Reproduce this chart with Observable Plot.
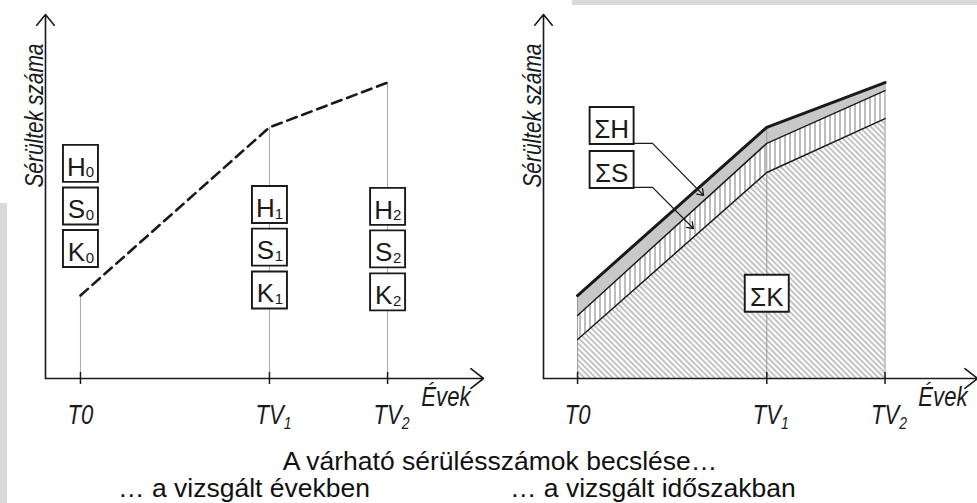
<!DOCTYPE html>
<html><head><meta charset="utf-8">
<script src="https://cdn.jsdelivr.net/npm/d3@7"></script>
<script src="https://cdn.jsdelivr.net/npm/@observablehq/plot@0.6"></script>
<style>
body{margin:0;background:#fff;}
#wrap{position:relative;width:977px;height:503px;overflow:hidden;font-family:"Liberation Sans",Arial,sans-serif;background:#fff;}
#charts{position:absolute;left:0;top:0;width:977px;display:flex;}
.title{position:absolute;white-space:nowrap;font-size:26.5px;line-height:26px;height:26px;color:#111;text-align:center;}
</style></head><body>
<svg width="0" height="0" style="position:absolute">
  <defs>
    <pattern id="hatchDiag" width="4" height="4" patternUnits="userSpaceOnUse" patternTransform="rotate(-45)">
      <line x1="1" y1="-1" x2="1" y2="5" stroke="#7a7a7a" stroke-width="0.9"/>
    </pattern>
    <pattern id="hatchVert" width="5" height="5" patternUnits="userSpaceOnUse">
      <rect width="5" height="5" fill="#fff"/>
      <line x1="2" y1="-1" x2="2" y2="6" stroke="#7a7a7a" stroke-width="1"/>
    </pattern>
  </defs>
</svg>
<div id="wrap">
  <div id="charts"></div>
  <div style="position:absolute;left:0;top:203px;width:7px;height:300px;background:#d9d9d9"></div>
  <div style="position:absolute;left:572px;top:0;width:405px;height:5px;background:#d9d9d9"></div>
  <div class="title" id="t0" style="left:0;width:1000px;top:448px"></div>
  <div class="title" id="t1" style="left:0;width:370px;top:475px;text-align:right"></div>
  <div class="title" id="t2" style="left:510px;width:320px;top:475px;text-align:left"></div>
</div>
<script>
// ---- data ----
const times = [0, 8, 13];
const tickMain = ["T0", "TV", "TV"];
const tickSub = ["", "1", "2"];
const kVals = [10.7, 56.6, 71.4];
const sVals = [6.6, 8.0, 7.7];
const hVals = [5.5, 4.4, 2.2];
const boxLetters = ["H", "S", "K"];
const boxYAtT = [[59.1, 47.4, 35.7], [47.8, 36.1, 24.3], [47.3, 35.6, 23.8]];
const sigmaLabels = ["ΣH", "ΣS", "ΣK"];
const sigmaX = [1.44, 1.44, 8.0];
const sigmaY = [69.5, 57.4, 23.4];
const leaderStartY = [64.6, 52.5];
const leaderElbowX = [3.17, 3.17];
const leaderTipX = [5.33, 4.9];
const leaderTipY = [50.3, 41.2];
const yLabel = "Sérültek száma";
const xLabel = "Évek";
const titleText = "A várható sérülésszámok becslése…";
const subLeft = "… a vizsgált években";
const subRight = "… a vizsgált időszakban";

// ---- derived tables ----
const rows = times.map((t, i) => ({
  t, k: kVals[i], ks: kVals[i] + sVals[i], tot: kVals[i] + sVals[i] + hVals[i],
  main: tickMain[i], sub: tickSub[i]
}));
const subRows = rows.filter(d => d.sub);
const boxes = [];
times.forEach((t, i) => boxLetters.forEach((L, j) => boxes.push({t, y: boxYAtT[i][j], letter: L, sub: String(i)})));
const sigmas = sigmaLabels.map((s, i) => ({x: sigmaX[i], y: sigmaY[i], label: s}));
const leaders = leaderStartY.map((y, i) => ({x0: sigmaX[i], y, xe: leaderElbowX[i], xt: leaderTipX[i], yt: leaderTipY[i]}));

const ink = "#1a1a1a";
const inkNarrow = "#1a1a1b"; // marks the condensed italic texts
const inkSubbed = "#1a1a1c"; // marks the condensed italic tick labels that carry a subscript
const regular = "'Liberation Sans',Arial,sans-serif";
const rectSymbol = (w, h) => ({draw(ctx) { ctx.rect(-w / 2, -h / 2, w, h); }});

function frameMarks(d0, d1, evekDx) {
  const it = {fontFamily: regular, fontStyle: "italic", fontSize: 27, fill: inkNarrow};
  return [
    Plot.arrow([0], {x1: d0, y1: 0, x2: d0, y2: 100, stroke: ink, strokeWidth: 1.6, headLength: 13, headAngle: 78}),
    Plot.arrow([0], {x1: d0, y1: 0, x2: d1, y2: 0, stroke: ink, strokeWidth: 1.6, headLength: 15, headAngle: 76}),
    Plot.ruleX(rows, {x: "t", y1: 0, y2: 0, insetTop: -6, insetBottom: -6, stroke: ink, strokeWidth: 1.5}),
    Plot.text(rows, {filter: d => !d.sub, x: "t", y: 0, text: "main", textAnchor: "middle", lineAnchor: "bottom", dy: 45, ...it}),
    Plot.text(subRows, {x: "t", y: 0, text: "main", textAnchor: "middle", lineAnchor: "bottom", dx: 4, dy: 45, ...it, fill: inkSubbed}),
    Plot.text([yLabel], {text: d => d, frameAnchor: "top-left", rotate: -90, textAnchor: "end", lineAnchor: "bottom", dx: -3, dy: 29, ...it, fontSize: 25.5}),
    Plot.text([xLabel], {text: d => d, frameAnchor: "bottom-right", textAnchor: "end", lineAnchor: "bottom", dx: evekDx, dy: 27, ...it})
  ];
}

const common = {height: 430, marginTop: 14, marginBottom: 52, y: {domain: [0, 100], axis: null},
  style: {maxWidth: "none", background: "transparent", overflow: "visible", fontFamily: regular}};

const left = Plot.plot({
  ...common, width: 488, marginLeft: 45, marginRight: 5,
  x: {domain: [-1.48, 17.06], axis: null},
  marks: [
    Plot.ruleX(rows, {x: "t", y1: 0, y2: "tot", stroke: "#a8a8a8", strokeWidth: 1}),
    Plot.line(rows, {x: "t", y: "tot", stroke: ink, strokeWidth: 2.6, strokeDasharray: "10,6"}),
    ...frameMarks(-1.48, 17.06, -13),
    Plot.dot(boxes, {x: "t", y: "y", r: 5, symbol: rectSymbol(35, 37), fill: "white", stroke: ink, strokeWidth: 1.9}),
    Plot.text(boxes, {x: "t", y: "y", text: "letter", dx: -4, dy: 4, fontSize: 26, fontFamily: regular, fill: ink}),
    Plot.text(boxes, {x: "t", y: "y", text: "sub", dx: 9.5, dy: 14, lineAnchor: "bottom", fontSize: 15, fontFamily: regular, fill: ink})
  ]
});

const right = Plot.plot({
  ...common, width: 489, marginLeft: 55, marginRight: 0,
  x: {domain: [-1.44, 16.91], axis: null},
  marks: [
    Plot.areaY(rows, {x: "t", y1: 0, y2: "k", fill: "url(#hatchDiag)"}),
    Plot.areaY(rows, {x: "t", y1: "k", y2: "ks", fill: "url(#hatchVert)"}),
    Plot.areaY(rows, {x: "t", y1: "ks", y2: "tot", fill: "#c8c8c8"}),
    Plot.ruleX(rows, {x: "t", y1: 0, y2: "tot", stroke: "#999", strokeWidth: 1}),
    Plot.line(rows, {x: "t", y: "k", stroke: ink, strokeWidth: 1.5}),
    Plot.line(rows, {x: "t", y: "ks", stroke: ink, strokeWidth: 1.5}),
    Plot.line(rows, {x: "t", y: "tot", stroke: ink, strokeWidth: 3}),
    ...frameMarks(-1.44, 16.91, -10),
    Plot.link(leaders, {x1: "x0", y1: "y", x2: "xe", y2: "y", stroke: ink, strokeWidth: 1.3}),
    Plot.arrow(leaders, {x1: "xe", y1: "y", x2: "xt", y2: "yt", stroke: ink, strokeWidth: 1.3, headLength: 8, headAngle: 70}),
    Plot.dot(sigmas, {x: "x", y: "y", r: 5, symbol: rectSymbol(44, 37), fill: "white", stroke: ink, strokeWidth: 1.9}),
    Plot.text(sigmas, {x: "x", y: "y", text: "label", dy: 4, fontSize: 26, fontFamily: regular, fill: ink})
  ]
});

document.getElementById("charts").append(left, right);
// subscripts on TV tick labels, then condensed italic lettering like the original's narrow face
const narrowTexts = [];
document.querySelectorAll("#charts svg g").forEach(g => {
  const f = (g.getAttribute("fill") || "").toLowerCase();
  if (f === inkSubbed) {
    g.querySelectorAll("text").forEach((t, i) => {
      const ts = document.createElementNS("http://www.w3.org/2000/svg", "tspan");
      ts.setAttribute("dy", "5");
      ts.setAttribute("font-size", "17");
      ts.textContent = subRows[i].sub;
      t.appendChild(ts);
      narrowTexts.push(t);
    });
  } else if (f === inkNarrow) {
    g.querySelectorAll("text").forEach(t => narrowTexts.push(t));
  }
});
narrowTexts.forEach(t => {
  const L = t.getComputedTextLength();
  if (L > 0) {
    t.setAttribute("textLength", (L * 0.82).toFixed(1));
    t.setAttribute("lengthAdjust", "spacingAndGlyphs");
  }
});
document.getElementById("t0").textContent = titleText;
document.getElementById("t1").textContent = subLeft;
document.getElementById("t2").textContent = subRight;
</script>
</body></html>
